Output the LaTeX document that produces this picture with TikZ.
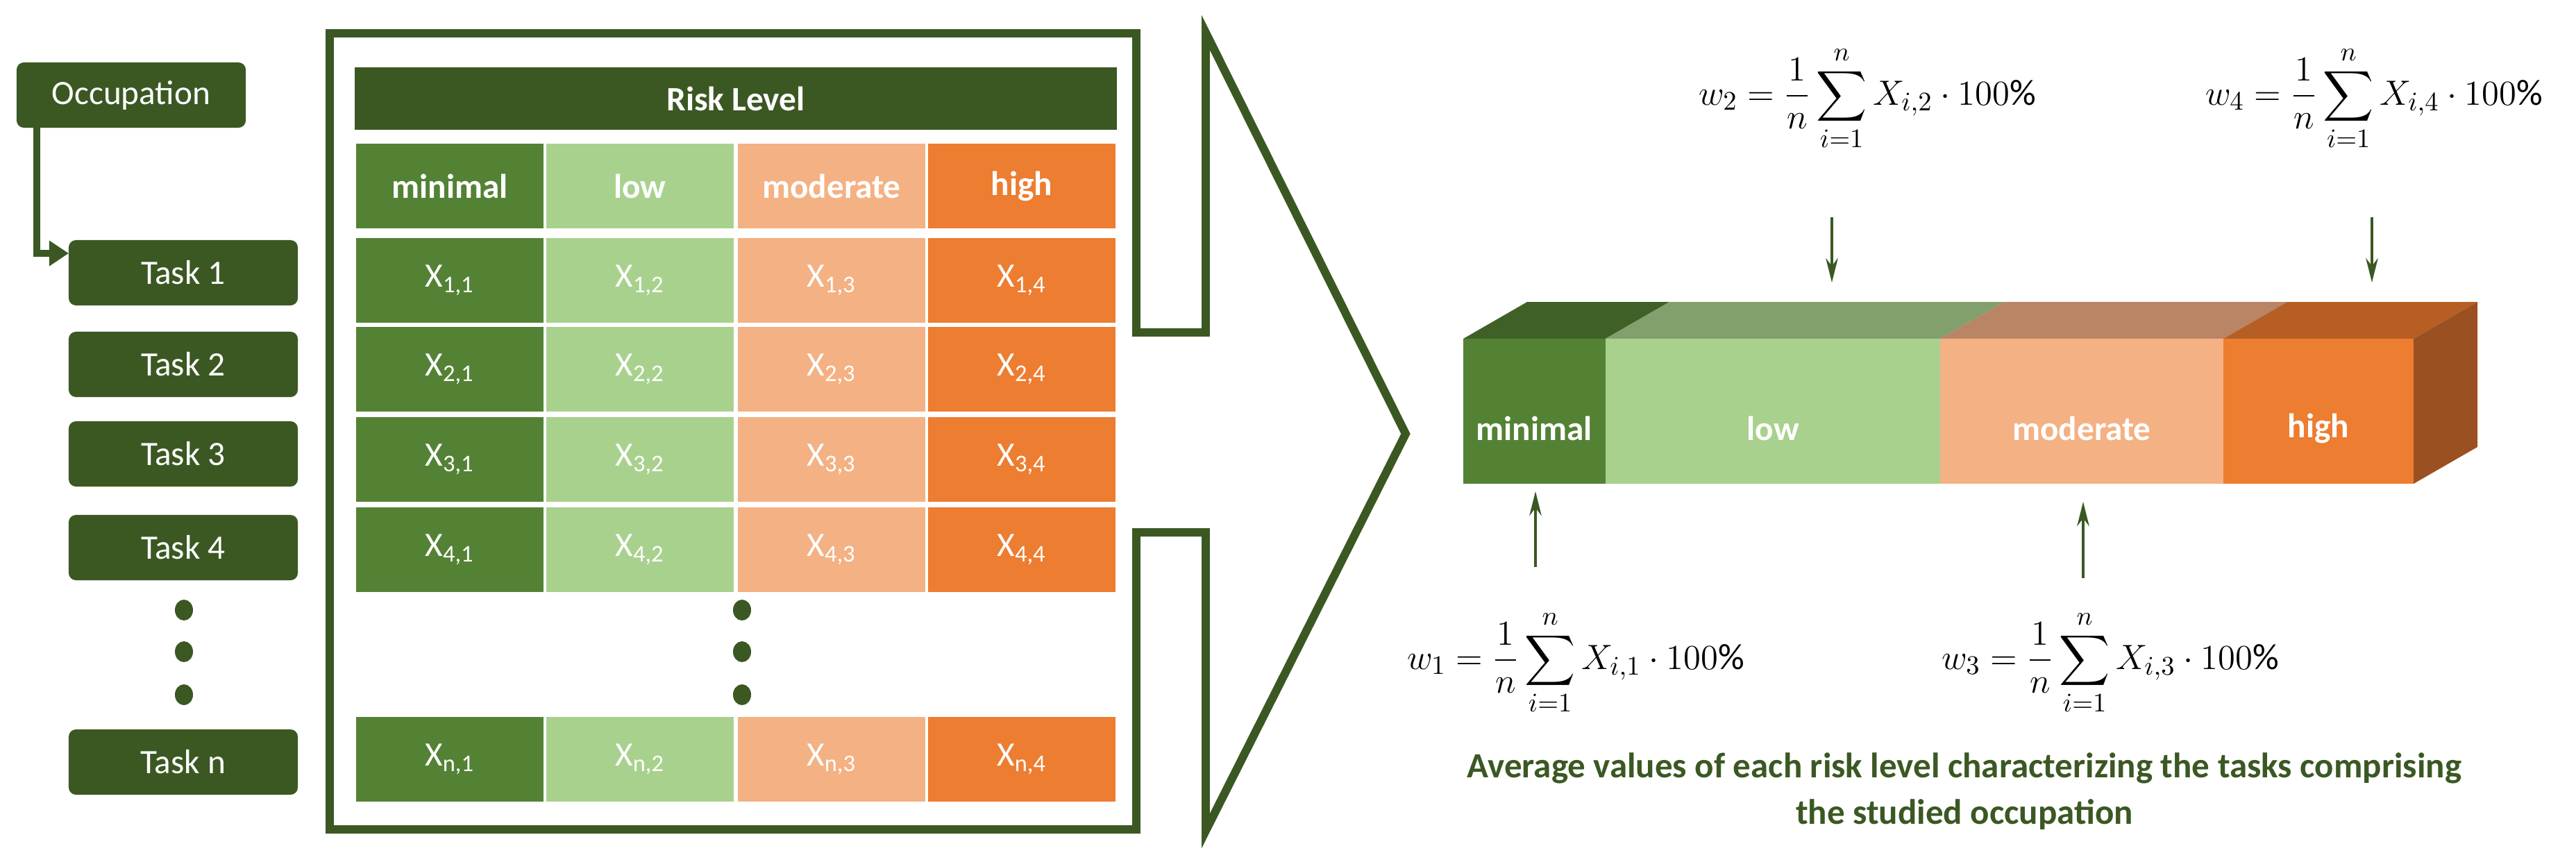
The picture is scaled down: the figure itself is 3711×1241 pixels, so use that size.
\documentclass[tikz,border=0pt]{standalone}
\usepackage{fontspec}
\setmainfont{Carlito}
\usepackage{amsmath}
\usetikzlibrary{arrows.meta,shapes.geometric}
\definecolor{dg}{HTML}{3B5823}
\definecolor{cmin}{HTML}{548235}
\definecolor{clow}{HTML}{A9D18E}
\definecolor{cmod}{HTML}{F4B183}
\definecolor{chigh}{HTML}{ED7D31}
\definecolor{tmin}{HTML}{3F6127}
\definecolor{tlow}{HTML}{82A06E}
\definecolor{tmod}{HTML}{B98565}
\definecolor{thigh}{HTML}{B65E23}
\definecolor{sidehigh}{HTML}{9A5021}
\tikzset{
  taskbox/.style={fill=dg, rounded corners=3pt, text=white, minimum width=3.3cm, minimum height=0.94cm, font=\fontsize{14}{16}\selectfont, inner sep=0pt},
  cell/.style={draw=white, line width=1pt, text=white, minimum width=2.74cm, minimum height=1.25cm, inner sep=0pt, font=\fontsize{14}{16}\selectfont},
  hcell/.style={cell, font=\bfseries\fontsize{14}{16}\selectfont},
  dotm/.style={fill=dg, ellipse, minimum width=0.26cm, minimum height=0.3cm, inner sep=0pt},
  warrow/.style={-{Stealth[length=10pt,width=5pt]}, draw=dg, line width=0.9pt},
  formula/.style={font=\fontsize{15}{18}\selectfont, inner sep=0pt},
  barlabel/.style={text=white, font=\bfseries\fontsize{14}{16}\selectfont, inner sep=0pt}
}
\begin{document}
\begin{tikzpicture}[x=0.01cm,y=-0.01cm]
\useasboundingbox (0,0) rectangle (3711,1241);
% left column
\node[taskbox] (occ) at (189,137) {Occupation};
\node[taskbox] (t1) at (264,393) {Task 1};
\node[taskbox] (t2) at (264,525) {Task 2};
\node[taskbox] (t3) at (264,654) {Task 3};
\node[taskbox] (t4) at (264,789) {Task 4};
\node[taskbox] (tn) at (264,1098) {Task n};
\node[dotm] (ld1) at (265,879) {};
\node[dotm] (ld2) at (265,939) {};
\node[dotm] (ld3) at (265,1001) {};
\coordinate (occb) at (53,184);
\coordinate (t1in) at (99,365);
\draw[dg, line width=2.6pt, -{Triangle[length=8pt,width=10pt]}] (occb) |- (t1in);
% frame arrow
\draw[dg, line width=3.4pt, line join=miter] (475,48) -- (1637,48) -- (1637,479) -- (1737,479) -- (1737,47) -- (2025,625) -- (1737,1197) -- (1737,767) -- (1637,767) -- (1637,1195) -- (475,1195) -- cycle;
% table
\node[fill=dg, text=white, minimum width=10.97cm, minimum height=0.9cm, inner sep=0pt, font=\bfseries\fontsize{14}{16}\selectfont] (rl) at (1060,142) {Risk Level};
\node[hcell, fill=cmin] (hmin) at (648,268) {minimal};
\node[hcell, fill=clow] (hlow) at (922,268) {low};
\node[hcell, fill=cmod] (hmod) at (1198,268) {moderate};
\node[hcell, fill=chigh] (hhigh) at (1472,268) {high};
\foreach \rr/\y in {1/404,2/532,3/662,4/792,n/1094}{
  \node[cell, fill=cmin] (c\rr1) at (648,\y) {X\textsubscript{\rr,1}};
  \node[cell, fill=clow] (c\rr2) at (922,\y) {X\textsubscript{\rr,2}};
  \node[cell, fill=cmod] (c\rr3) at (1198,\y) {X\textsubscript{\rr,3}};
  \node[cell, fill=chigh] (c\rr4) at (1472,\y) {X\textsubscript{\rr,4}};
}
\node[dotm] (td1) at (1069,879) {};
\node[dotm] (td2) at (1069,939) {};
\node[dotm] (td3) at (1069,1001) {};
% cuboid
\fill[tmin] (2108,488) -- (2313,488) -- (2405,435) -- (2200,435) -- cycle;
\fill[tlow] (2313,488) -- (2795,488) -- (2887,435) -- (2405,435) -- cycle;
\fill[tmod] (2795,488) -- (3203,488) -- (3295,435) -- (2887,435) -- cycle;
\fill[thigh] (3203,488) -- (3477,488) -- (3569,435) -- (3295,435) -- cycle;
\fill[sidehigh] (3477,488) -- (3569,435) -- (3569,644) -- (3477,697) -- cycle;
\fill[cmin] (2108,488) rectangle (2313,697);
\fill[clow] (2313,488) rectangle (2795,697);
\fill[cmod] (2795,488) rectangle (3203,697);
\fill[chigh] (3203,488) rectangle (3477,697);
\node[barlabel] (bmin) at (2210,617) {minimal};
\node[barlabel] (blow) at (2554,617) {low};
\node[barlabel] (bmod) at (2999,617) {moderate};
\node[barlabel] (bhigh) at (3340,617) {high};
% formulas
\node[formula] (w2) at (2690,142) {$w_2=\dfrac{1}{n}\displaystyle\sum_{i=1}^{n}X_{i,2}\cdot 100\%$};
\node[formula] (w4) at (3420,142) {$w_4=\dfrac{1}{n}\displaystyle\sum_{i=1}^{n}X_{i,4}\cdot 100\%$};
\node[formula] (w1) at (2270,955) {$w_1=\dfrac{1}{n}\displaystyle\sum_{i=1}^{n}X_{i,1}\cdot 100\%$};
\node[formula] (w3) at (3040,955) {$w_3=\dfrac{1}{n}\displaystyle\sum_{i=1}^{n}X_{i,3}\cdot 100\%$};
\coordinate (a2s) at (2639,313); \coordinate (a2e) at (2639,407);
\coordinate (a4s) at (3417,313); \coordinate (a4e) at (3417,407);
\coordinate (a1s) at (2212,817); \coordinate (a1e) at (2212,708);
\coordinate (a3s) at (3001,833); \coordinate (a3e) at (3001,723);
\draw[warrow] (a2s) -- (a2e);
\draw[warrow] (a4s) -- (a4e);
\draw[warrow] (a1s) -- (a1e);
\draw[warrow] (a3s) -- (a3e);
\node[text=dg, align=center, font=\bfseries\fontsize{14.5}{19}\selectfont] (cap) at (2830,1140) {Average values of each risk level characterizing the tasks comprising\\the studied occupation};
\end{tikzpicture}
\end{document}
